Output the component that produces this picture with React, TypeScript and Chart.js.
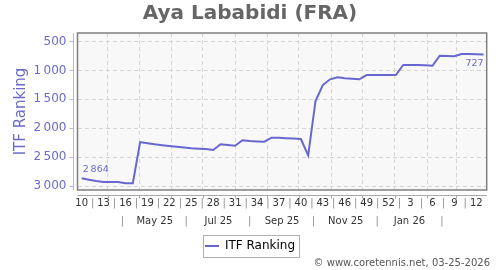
import React, { useEffect, useRef } from 'react';
import { Chart, registerables } from 'chart.js';

Chart.register(...registerables);

// ---------- data ----------
const titleText = 'Aya Lababidi (FRA)';
const seriesName = 'ITF Ranking';
const copyrightText = '© www.coretennis.net, 03-25-2026';

// x values are days counted from Monday 3 March 2025 (start of ISO week 10)
const firstPointDay = 4;
const daysPerWeek = 7;
// weekly ITF ranking, week 10 of 2025 .. week 13 of 2026
const rankValues = [
  2864, 2890, 2912, 2931, 2931, 2931, 2953, 2953, 2239, 2259,
  2279, 2293, 2308, 2321, 2335, 2348, 2354, 2360, 2377, 2279,
  2291, 2303, 2209, 2221, 2228, 2234, 2164, 2164, 2172, 2180,
  2187, 2469, 1529, 1253, 1154, 1119, 1137, 1145, 1154, 1080,
  1080, 1080, 1080, 1080, 907, 907, 907, 913, 919, 746,
  751, 756, 716, 716, 722, 727,
];
const firstLabel = '2\u2009864';
const lastLabel = '727';

const xMinDay = 0;
const xMaxDay = 392;

const weekTickLabels = ['10', '13', '16', '19', '22', '25', '28', '31', '34', '37', '40', '43', '46', '49', '52', '3', '6', '9', '12'];
const weekTickDays = [4, 25, 46, 67, 88, 109, 130, 151, 172, 193, 214, 235, 256, 277, 298, 319, 340, 361, 382];
const separatorText = '|';

const monthStartDays = [29, 59, 90, 120, 151, 182, 212, 243, 273, 304, 335, 363];
const monthLabels = ['May 25', 'Jul 25', 'Sep 25', 'Nov 25', 'Jan 26'];
const monthLabelDays = [74, 135, 196, 257, 318];
const monthSeparatorDays = [43, 104, 165, 226, 287, 349];

const yTickValues = [500, 1000, 1500, 2000, 2500, 3000];
const yTickLabels = ['500', '1\u2009000', '1\u2009500', '2\u2009000', '2\u2009500', '3\u2009000'];
const yMin = 353;
const yMax = 3069;

// ---------- styles ----------
const FONT = 'DejaVu Sans';
const LINE_COLOR = '#6767cf';
const AXIS_TEXT = '#6a6acd';

const xTickLabelMap = new Map<number, string>();
weekTickDays.forEach((d, i) => xTickLabelMap.set(d, weekTickLabels[i]));
for (let i = 0; i < weekTickDays.length - 1; i++) {
  xTickLabelMap.set((weekTickDays[i] + weekTickDays[i + 1]) / 2, separatorText);
}
monthStartDays.forEach((d) => { if (!xTickLabelMap.has(d)) xTickLabelMap.set(d, ''); });
const monthStartSet = new Set(monthStartDays);

const xmLabelMap = new Map<number, string>();
monthLabelDays.forEach((d, i) => xmLabelMap.set(d, monthLabels[i]));
monthSeparatorDays.forEach((d) => xmLabelMap.set(d, separatorText));

const decorPlugin = {
  id: 'decor',
  beforeDraw(chart: any) {
    const { ctx, chartArea: a } = chart;
    ctx.save();
    ctx.fillStyle = '#f8f8f8';
    ctx.fillRect(a.left, a.top, a.right - a.left, a.bottom - a.top);
    ctx.restore();
  },
  afterDraw(chart: any) {
    const { ctx, chartArea: a, scales } = chart;
    ctx.save();
    // plot frame
    ctx.strokeStyle = '#808080';
    ctx.lineWidth = 1.5;
    ctx.strokeRect(a.left, a.top, a.right - a.left, a.bottom - a.top);
    // y axis line + ticks
    const yl = Math.round(a.left - 5) + 0.5;
    ctx.strokeStyle = '#b6b6e2';
    ctx.lineWidth = 1;
    ctx.beginPath();
    ctx.moveTo(yl, a.top);
    ctx.lineTo(yl, a.bottom);
    yTickValues.forEach((v) => {
      const py = Math.round(scales.y.getPixelForValue(v)) + 0.5;
      ctx.moveTo(yl - 4, py);
      ctx.lineTo(yl, py);
    });
    ctx.stroke();
    // x axis line + ticks
    const xl = Math.round(a.bottom + 5) + 0.5;
    ctx.strokeStyle = '#a8a8a8';
    ctx.beginPath();
    ctx.moveTo(a.left, xl);
    ctx.lineTo(a.right, xl);
    monthStartDays.forEach((d) => {
      const px = Math.round(scales.x.getPixelForValue(d)) + 0.5;
      ctx.moveTo(px, xl);
      ctx.lineTo(px, xl + 3);
    });
    ctx.stroke();
    // legend frame
    const lg = chart.legend;
    if (lg && lg.legendHitBoxes && lg.legendHitBoxes[0]) {
      const hb = lg.legendHitBoxes[0];
      ctx.strokeStyle = '#b0b0b0';
      ctx.strokeRect(Math.round(hb.left - 2) + 0.5, Math.round(hb.top - 5) + 0.5, Math.round(hb.width + 6), Math.round(hb.height + 10));
    }
    // copyright
    ctx.fillStyle = '#555';
    ctx.font = `10px "${FONT}"`;
    ctx.textAlign = 'right';
    ctx.textBaseline = 'middle';
    ctx.fillText(copyrightText, 490, 263);
    ctx.restore();
  },
  afterDatasetsDraw(chart: any) {
    const { ctx } = chart;
    const meta = chart.getDatasetMeta(0);
    const pts = meta.data;
    if (!pts || !pts.length) return;
    const first = pts[0];
    const last = pts[pts.length - 1];
    ctx.save();
    ctx.fillStyle = AXIS_TEXT;
    ctx.font = `9.5px "${FONT}"`;
    ctx.textBaseline = 'middle';
    ctx.textAlign = 'left';
    ctx.fillText(firstLabel, first.x + 1, first.y - 8.5);
    ctx.textAlign = 'right';
    ctx.fillText(lastLabel, last.x, last.y + 9);
    ctx.restore();
  },
};

export default function App() {
  const ref = useRef<HTMLCanvasElement | null>(null);

  useEffect(() => {
    document.body.style.margin = '0';
    const canvas = ref.current;
    if (!canvas) return;
    Chart.defaults.font.family = FONT;

    const data = rankValues.map((v, i) => ({ x: firstPointDay + daysPerWeek * i, y: v }));

    const chart = new Chart(canvas, {
      type: 'line',
      data: {
        datasets: [
          {
            label: seriesName,
            data,
            borderColor: LINE_COLOR,
            backgroundColor: LINE_COLOR,
            borderWidth: 2,
            pointRadius: 0,
            tension: 0,
            fill: false,
          },
        ],
      },
      plugins: [decorPlugin],
      options: {
        animation: false,
        responsive: true,
        maintainAspectRatio: false,
        devicePixelRatio: 1,
        events: [],
        layout: { padding: { left: 0, right: 0, top: 0, bottom: 8 } },
        plugins: {
          title: {
            display: true,
            text: titleText,
            color: '#666666',
            font: { family: FONT, size: 20, weight: 'bold' },
            padding: { top: 2, bottom: 7 },
          },
          legend: {
            display: true,
            position: 'bottom',
            labels: {
              color: '#222',
              font: { family: FONT, size: 12 },
              boxWidth: 14,
              boxHeight: 2,
              padding: 10,
              generateLabels: () => [
                {
                  text: seriesName,
                  fillStyle: LINE_COLOR,
                  strokeStyle: LINE_COLOR,
                  lineWidth: 0,
                  hidden: false,
                  datasetIndex: 0,
                } as any,
              ],
            },
          },
          tooltip: { enabled: false },
        },
        scales: {
          x: {
            type: 'linear',
            position: 'bottom',
            min: xMinDay,
            max: xMaxDay,
            weight: 0,
            afterBuildTicks: (scale: any) => {
              scale.ticks = Array.from(xTickLabelMap.keys()).sort((a, b) => a - b).map((v) => ({ value: v }));
            },
            afterFit: (scale: any) => { scale.height = 22; },
            ticks: {
              autoSkip: false,
              maxRotation: 0,
              minRotation: 0,
              padding: 7,
              font: { family: FONT, size: 10 },
              color: (ctx: any) => (ctx.tick && ctx.tick.label === separatorText ? '#8c8c8c' : '#333333'),
              callback: (v: any) => xTickLabelMap.get(Number(v)) ?? '',
            },
            grid: {
              display: true,
              drawTicks: false,
              drawOnChartArea: true,
              color: (ctx: any) => (ctx.tick && monthStartSet.has(ctx.tick.value) ? '#d6d6d6' : 'rgba(0,0,0,0)'),
              lineWidth: 1,
            },
            border: { display: false, dash: [4, 3] },
          },
          xm: {
            type: 'linear',
            position: 'bottom',
            min: xMinDay,
            max: xMaxDay,
            weight: 1,
            afterBuildTicks: (scale: any) => {
              scale.ticks = Array.from(xmLabelMap.keys()).sort((a, b) => a - b).map((v) => ({ value: v }));
            },
            afterFit: (scale: any) => { scale.height = 18; },
            ticks: {
              autoSkip: false,
              maxRotation: 0,
              minRotation: 0,
              padding: 3,
              font: { family: FONT, size: 10 },
              color: (ctx: any) => (ctx.tick && ctx.tick.label === separatorText ? '#8c8c8c' : '#333333'),
              callback: (v: any) => xmLabelMap.get(Number(v)) ?? '',
            },
            grid: { display: false, drawTicks: false },
            border: { display: false },
          },
          y: {
            type: 'linear',
            position: 'left',
            reverse: true,
            min: yMin,
            max: yMax,
            afterBuildTicks: (scale: any) => {
              scale.ticks = yTickValues.map((v) => ({ value: v }));
            },
            afterFit: (scale: any) => { scale.width = 77.5; },
            ticks: {
              padding: 11,
              font: { family: FONT, size: 12 },
              color: AXIS_TEXT,
              callback: (v: any) => {
                const i = yTickValues.indexOf(Number(v));
                return i >= 0 ? yTickLabels[i] : '';
              },
            },
            title: {
              display: true,
              text: seriesName,
              color: AXIS_TEXT,
              font: { family: FONT, size: 15 },
              padding: { top: 12, bottom: 0 },
            },
            grid: { display: true, drawTicks: false, color: '#d6d6d6', lineWidth: 1 },
            border: { display: false, dash: [4, 3] },
          },
          yr: {
            type: 'linear',
            position: 'right',
            display: true,
            afterFit: (scale: any) => { scale.width = 13.3; },
            ticks: { display: false },
            grid: { display: false, drawTicks: false },
            border: { display: false },
          },
        },
      } as any,
    });

    return () => chart.destroy();
  }, []);

  return (
    <div style={{ position: 'relative', width: '500px', height: '270px' }}>
      <canvas ref={ref} />
    </div>
  );
}
